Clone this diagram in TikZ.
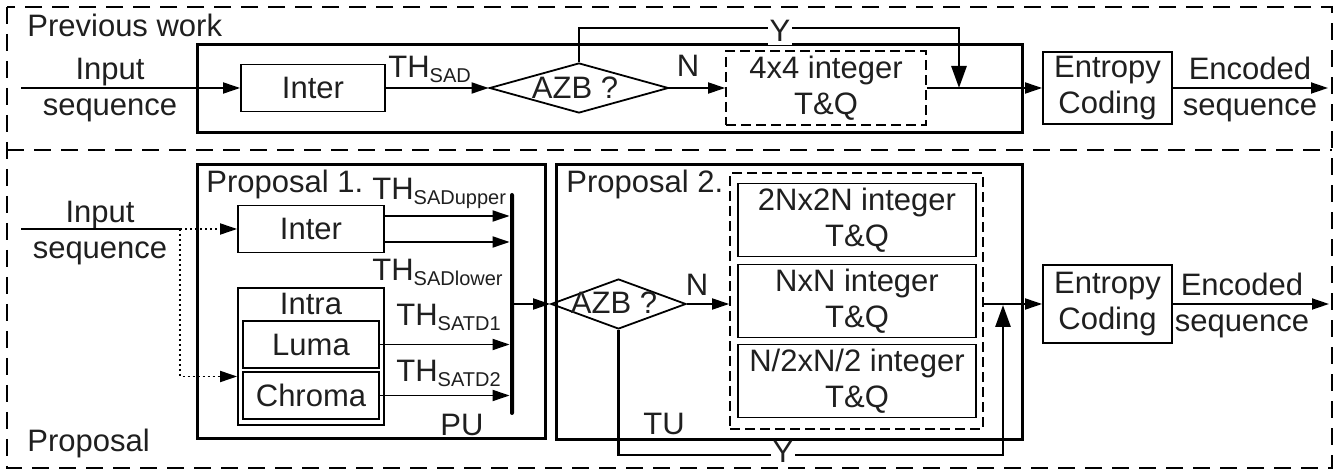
\documentclass[tikz,border=0pt]{standalone}
\usepackage{fontspec}
\setmainfont{Liberation Sans}
\usetikzlibrary{arrows.meta, positioning, shapes.geometric}
\newcommand{\thlbl}[1]{TH\raisebox{-2.2pt}{\fontsize{10}{10}\selectfont #1}}

\begin{document}
\begin{tikzpicture}[
    x=0.5pt, y=-0.5pt,
    >={Triangle[length=8.5pt, width=5.5pt]},
    every node/.style={font=\fontsize{15.5}{18}\selectfont, inner sep=0pt, text=black!88},
    blk/.style={rectangle, draw, line width=0.9pt, align=center},
    tq/.style={blk, minimum width=119pt, minimum height=36.5pt},
    dec/.style={diamond, draw, line width=0.9pt, minimum height=25pt},
    grp/.style={draw, line width=0.85pt, dash pattern=on 5pt off 2.5pt, align=center},
    stage/.style={draw, line width=1.5pt},
    zone/.style={draw, line width=1pt, dash pattern=on 8.5pt off 5pt},
    flow/.style={line width=0.9pt, ->},
    feed/.style={line width=0.9pt, dash pattern=on 1.2pt off 1.3pt, ->},
    bypass/.style={line width=1.4pt, ->, >={Triangle[length=11pt, width=7.5pt]}},
    ylbl/.style={fill=white, inner xsep=1pt}
  ]
  \useasboundingbox (0,0) rectangle (1341,470);

  \draw[zone] (7,7) rectangle (1332,468);
  \draw[zone] (7,150) -- (1332,150);
  \node[anchor=base west] (prevlbl) at (27,37) {Previous work};
  \node[anchor=base west] (proplbl) at (27,452) {Proposal};

  % previous work
  \draw[stage] (197,45) rectangle (1022,133);
  \coordinate (src0) at (21,88);
  \node[align=center] (in0) at (110,90) {Input\\sequence};
  \node[blk, minimum width=72pt, minimum height=23.5pt] (inter0) at (313,88) {Inter};
  \node[anchor=base west] (th0) at (388,78) {\thlbl{SAD}};
  \node[dec, minimum width=89.5pt] (dia0) at (579,88) {};
  \node (azb0) at (575,88) {AZB ?};
  \node (n0) at (688,66) {N};
  \node[grp, minimum width=100pt, minimum height=37pt] (tq0) at (826,88) {4x4 integer\\T\&Q};
  \node[blk, minimum width=64.5pt, minimum height=36pt] (ent0) at (1107.5,88) {Entropy\\Coding};
  \node[align=center] (enc0) at (1250,89) {Encoded\\sequence};
  \coordinate (out0) at (1328,88);
  \coordinate (yturn0) at (959,28);
  \coordinate (ymerge0) at (959,88);

  \draw[flow] (src0) -- (inter0);
  \draw[flow] (inter0) -- (dia0);
  \draw[flow] (dia0) -- (tq0);
  \draw[flow] (tq0) -- (ent0);
  \draw[flow] (ent0) -- (out0);
  \draw[bypass] (dia0.north) |- (yturn0) -- (ymerge0);
  \node[ylbl, inner ysep=1.5pt] (y0) at (780,31) {Y};

  % proposal 1
  \draw[stage] (197,165) rectangle (545,439);
  \node[anchor=base west] (p1lbl) at (206,193) {Proposal 1.};
  \coordinate (src1) at (21,229);
  \coordinate (split) at (180,229);
  \node[align=center] (in1) at (100,233) {Input\\sequence};
  \node[blk, minimum width=73pt, minimum height=23.5pt] (inter1) at (311,229) {Inter};
  \node[blk, minimum width=73pt, minimum height=68.5pt] (intra) at (311,356.5) {};
  \node[anchor=base] (intralbl) at (311,315) {Intra};
  \node[blk, minimum width=68pt, minimum height=23.5pt] (luma) at (311,344.5) {Luma};
  \node[blk, minimum width=68pt, minimum height=23.5pt] (chroma) at (311,395.5) {Chroma};
  \node[fill, minimum width=2pt, minimum height=111pt, rounded corners=1pt] (pu) at (512,304) {};
  \node (pulbl) at (462,425) {PU};
  \node[anchor=base west] (thup) at (372,200) {\thlbl{SADupper}};
  \node[anchor=base west] (thlow) at (372,281) {\thlbl{SADlower}};
  \node[anchor=base west] (thl) at (396,326) {\thlbl{SATD1}};
  \node[anchor=base west] (thc) at (396,382) {\thlbl{SATD2}};

  \draw[line width=0.9pt] (src1) -- (split);
  \draw[feed] (split) -- (inter1);
  \draw[feed] (split) |- ([yshift=-10pt]intra.west);
  \draw[flow] ([yshift=6.5pt]inter1.east) -- ([yshift=6.5pt]inter1.east -| pu.west);
  \draw[flow] ([yshift=-6.5pt]inter1.east) -- ([yshift=-6.5pt]inter1.east -| pu.west);
  \draw[flow] (luma) -- (luma -| pu.west);
  \draw[flow] (chroma) -- (chroma -| pu.west);

  % proposal 2
  \draw[stage] (556,165) rectangle (1022,440);
  \node[anchor=base west] (p2lbl) at (566,193) {Proposal 2.};
  \node[dec, minimum width=67.5pt] (dia1) at (618.5,304) {};
  \node (azb1) at (614,303) {AZB ?};
  \node (n1) at (697,285) {N};
  \node (tulbl) at (664,424) {TU};
  \node[grp, minimum width=126.5pt, minimum height=128pt] (tqgrp) at (856.5,301) {};
  \node[tq] (tq2n) at (857,220) {2Nx2N integer\\T\&Q};
  \node[tq] (tqn) at (857,301) {NxN integer\\T\&Q};
  \node[tq] (tqhalf) at (857,381) {N/2xN/2 integer\\T\&Q};
  \node[blk, minimum width=64.5pt, minimum height=39pt] (ent1) at (1107.5,304) {Entropy\\Coding};
  \node[align=center] (enc1) at (1242,305) {Encoded\\sequence};
  \coordinate (out1) at (1329,304);
  \coordinate (yturn1) at (1003,455);
  \coordinate (ymerge1) at (1003,305);

  \draw[flow] (pu) -- (dia1.west);
  \draw[flow] (dia1) -- (dia1 -| tqgrp.west);
  \draw[flow] (tqgrp.east |- ent1) -- (ent1);
  \draw[flow] (ent1) -- (out1);
  \draw[bypass] (dia1.south) |- (yturn1) -- (ymerge1);
  \node[ylbl] (y1) at (783,452) {Y};

\end{tikzpicture}
\end{document}
